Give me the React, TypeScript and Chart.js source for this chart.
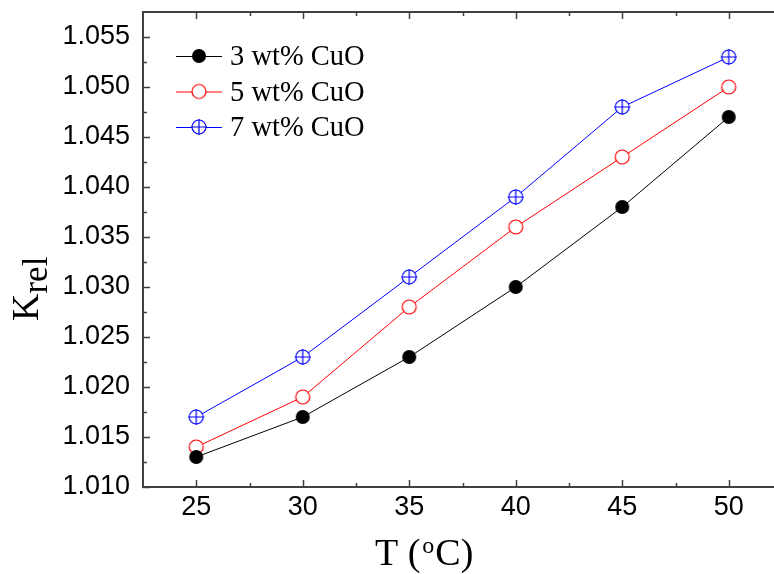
import React, { useEffect, useRef } from "react";
import { Chart, registerables } from "chart.js";

Chart.register(...registerables);

const xValues = [25, 30, 35, 40, 45, 50];
const cuo3 = [1.013, 1.017, 1.023, 1.03, 1.038, 1.047];
const cuo5 = [1.014, 1.019, 1.028, 1.036, 1.043, 1.05];
const cuo7 = [1.017, 1.023, 1.031, 1.039, 1.048, 1.053];
const seriesLabels = ["3 wt% CuO", "5 wt% CuO", "7 wt% CuO"];
const xTicks = [25, 30, 35, 40, 45, 50];
const yTicks = [1.01, 1.015, 1.02, 1.025, 1.03, 1.035, 1.04, 1.045, 1.05, 1.055];

type Kind = "filled" | "open" | "cross";

function makeMarker(kind: Kind, color: string): HTMLCanvasElement {
  const c = document.createElement("canvas");
  c.width = 18;
  c.height = 18;
  const g = c.getContext("2d")!;
  const cx = 9, cy = 9, r = 7;
  g.beginPath();
  g.arc(cx, cy, r, 0, Math.PI * 2);
  if (kind === "filled") {
    g.fillStyle = color;
    g.fill();
  } else {
    g.fillStyle = "#ffffff";
    g.fill();
    g.lineWidth = 1.2;
    g.strokeStyle = color;
    g.stroke();
    if (kind === "cross") {
      g.beginPath();
      g.moveTo(cx - 8, cy);
      g.lineTo(cx + 8, cy);
      g.moveTo(cx, cy - 8);
      g.lineTo(cx, cy + 8);
      g.lineWidth = 1.2;
      g.stroke();
    }
  }
  return c;
}

export default function App() {
  const ref = useRef<HTMLCanvasElement | null>(null);

  useEffect(() => {
    const canvas = ref.current!;
    const markers = [
      makeMarker("filled", "#000000"),
      makeMarker("open", "#ff0000"),
      makeMarker("cross", "#0000ff"),
    ];
    const colors = ["#000000", "#ff0000", "#0000ff"];
    const series = [cuo3, cuo5, cuo7];

    const framePlugin = {
      id: "framePlugin",
      afterDraw(chart: any) {
        const ctx = chart.ctx as CanvasRenderingContext2D;
        const { left, right, top, bottom } = chart.chartArea;
        const xs = chart.scales.x;
        const ys = chart.scales.y;
        ctx.save();
        // frame
        ctx.strokeStyle = "#404040";
        ctx.lineWidth = 2;
        ctx.strokeRect(left, top, right - left, bottom - top);
        // ticks
        ctx.lineWidth = 1.5;
        ctx.beginPath();
        xTicks.forEach((v, i) => {
          const px = Math.round(xs.getPixelForValue(v)) + 0.5;
          ctx.moveTo(px, bottom);
          ctx.lineTo(px, bottom - 7);
          ctx.moveTo(px, top);
          ctx.lineTo(px, top + 7);
          if (i < xTicks.length - 1) {
            const m = Math.round(xs.getPixelForValue((v + xTicks[i + 1]) / 2)) + 0.5;
            ctx.moveTo(m, bottom);
            ctx.lineTo(m, bottom - 4);
            ctx.moveTo(m, top);
            ctx.lineTo(m, top + 4);
          }
        });
        yTicks.forEach((v, i) => {
          const py = Math.round(ys.getPixelForValue(v)) + 0.5;
          ctx.moveTo(left, py);
          ctx.lineTo(left + 7, py);
          ctx.moveTo(right, py);
          ctx.lineTo(right - 7, py);
          if (i < yTicks.length - 1) {
            const m = Math.round(ys.getPixelForValue((v + yTicks[i + 1]) / 2)) + 0.5;
            ctx.moveTo(left, m);
            ctx.lineTo(left + 4, m);
            ctx.moveTo(right, m);
            ctx.lineTo(right - 4, m);
          }
        });
        ctx.stroke();

        // x title: T (°C) with superscript o
        ctx.fillStyle = "#000000";
        ctx.textBaseline = "alphabetic";
        ctx.textAlign = "left";
        let x0 = 375;
        ctx.font = '38px "Liberation Serif"';
        ctx.fillText("T (", x0, 565);
        x0 += ctx.measureText("T (").width + 2;
        ctx.font = '24px "Liberation Serif"';
        ctx.fillText("o", x0, 553);
        x0 += ctx.measureText("o").width + 1;
        ctx.font = '38px "Liberation Serif"';
        ctx.fillText("C)", x0, 565);

        // y title: K_rel
        ctx.save();
        ctx.translate(38, 321);
        ctx.rotate(-Math.PI / 2);
        ctx.font = '38px "Liberation Serif"';
        ctx.fillText("K", 0, 0);
        const kw = ctx.measureText("K").width;
        ctx.font = '35px "Liberation Serif"';
        ctx.fillText("rel", kw, 9);
        ctx.restore();

        // legend
        const rows = [56, 91.5, 127];
        ctx.font = '28.5px "Liberation Serif"';
        rows.forEach((ry, i) => {
          ctx.beginPath();
          ctx.strokeStyle = colors[i];
          ctx.lineWidth = 1;
          ctx.moveTo(176, ry + 0.5);
          ctx.lineTo(222, ry + 0.5);
          ctx.stroke();
          ctx.drawImage(markers[i], 199 - 9, ry - 9);
          ctx.fillStyle = "#000000";
          ctx.fillText(seriesLabels[i], 230, ry + 9);
        });
        ctx.restore();
      },
    };

    const chart = new Chart(canvas, {
      type: "line",
      data: {
        datasets: series.map((s, i) => ({
          label: seriesLabels[i],
          data: xValues.map((x, j) => ({ x, y: s[j] })),
          borderColor: colors[i],
          borderWidth: 1,
          pointStyle: markers[i] as any,
          pointRadius: 7,
          pointHoverRadius: 7,
          tension: 0,
          fill: false,
        })),
      },
      options: {
        animation: false,
        responsive: false,
        devicePixelRatio: 1,
        layout: { padding: { top: 12, right: 18, left: 0, bottom: 0 } },
        plugins: {
          legend: { display: false },
          tooltip: { enabled: false },
        },
        events: [],
        scales: {
          x: {
            type: "linear",
            min: 22.5,
            max: 52.5,
            grid: { display: false, drawTicks: false },
            border: { display: false },
            afterBuildTicks: (scale: any) => {
              scale.ticks = xTicks.map((v) => ({ value: v }));
            },
            afterFit: (scale: any) => {
              scale.height = 87;
              scale.paddingLeft = 0;
              scale.paddingRight = 0;
            },
            ticks: {
              color: "#000000",
              padding: 4,
              maxRotation: 0,
              autoSkip: false,
              font: { family: '"Liberation Sans"', size: 27 },
              callback: (v: any) => String(v),
            },
          },
          y: {
            type: "linear",
            min: 1.01,
            max: 1.0575,
            grid: { display: false, drawTicks: false },
            border: { display: false },
            afterBuildTicks: (scale: any) => {
              scale.ticks = yTicks.map((v) => ({ value: v }));
            },
            afterFit: (scale: any) => {
              scale.width = 143;
              scale.paddingTop = 0;
              scale.paddingBottom = 0;
            },
            ticks: {
              color: "#000000",
              padding: 13,
              autoSkip: false,
              font: { family: '"Liberation Sans"', size: 27 },
              callback: (v: any) => Number(v).toFixed(3),
            },
          },
        },
      },
      plugins: [framePlugin],
    });
    return () => chart.destroy();
  }, []);

  return (
    <div
      style={{
        position: "absolute",
        left: 0,
        top: 0,
        width: 774,
        height: 574,
        overflow: "hidden",
        background: "#ffffff",
      }}
    >
      <canvas ref={ref} width={800} height={574} style={{ display: "block" }} />
    </div>
  );
}
